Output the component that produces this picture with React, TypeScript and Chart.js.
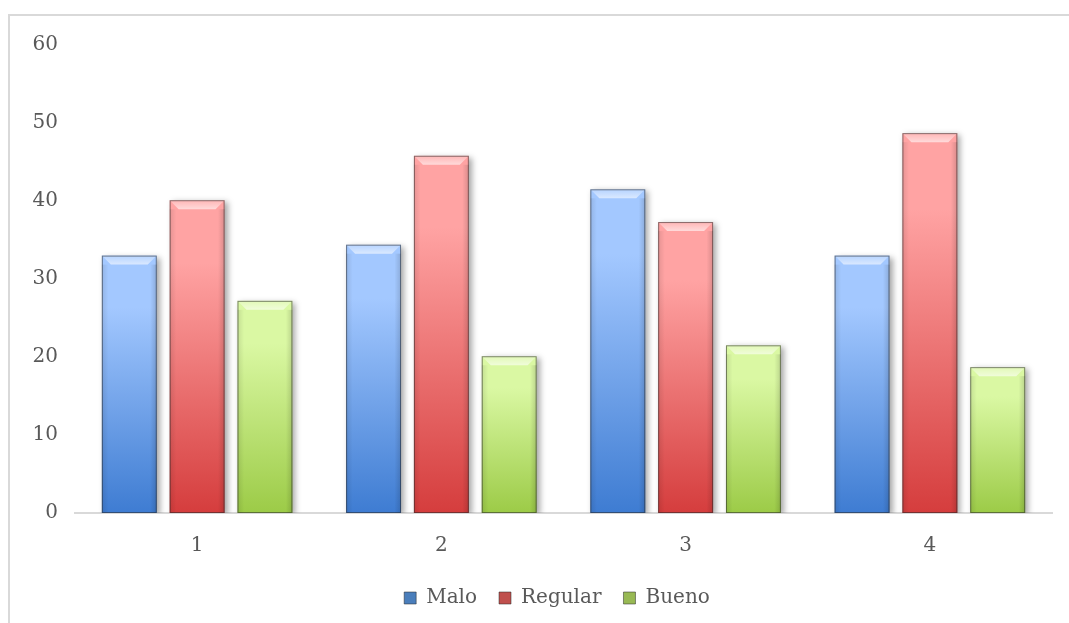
import React, { useEffect, useRef } from "react";
import { Chart, registerables } from "chart.js";

Chart.register(...registerables);

const categories = ["1", "2", "3", "4"];
const seriesNames = ["Malo", "Regular", "Bueno"];
const malo = [33.0, 34.4, 41.5, 33.0];
const regular = [40.1, 45.8, 37.3, 48.7];
const bueno = [27.2, 20.1, 21.5, 18.7];
const yTicks = [0, 10, 20, 30, 40, 50, 60];

const lightColors = ["#a3c8ff", "#ffa3a3", "#daf8a3"];
const darkColors = ["#3e7cd2", "#d53d3d", "#9ccb47"];
const legendColors = ["#4a7ebb", "#c0504d", "#98b954"];

const FONT = "'DejaVu Serif', serif";

function barGradient(idx: number) {
  return (ctx: any) => {
    const chart = ctx.chart;
    if (!chart.chartArea || ctx.raw == null) return legendColors[idx];
    const y = chart.scales.y;
    const top = y.getPixelForValue(ctx.raw);
    const bottom = y.getPixelForValue(0);
    const g = chart.ctx.createLinearGradient(0, top, 0, bottom);
    g.addColorStop(0, lightColors[idx]);
    g.addColorStop(0.2, lightColors[idx]);
    g.addColorStop(1, darkColors[idx]);
    return g;
  };
}

const legendShiftPlugin = {
  id: "legendShift",
  afterLayout(chart: any) {
    if (chart.legend) {
      chart.legend.left += 22;
      chart.legend.right += 22;
    }
  },
};

const bevelPlugin = {
  id: "bevel",
  beforeDatasetsDraw(chart: any) {
    const c = chart.ctx;
    c.save();
    c.shadowColor = "rgba(0,0,0,0.35)";
    c.shadowBlur = 6;
    c.shadowOffsetX = 3;
    c.shadowOffsetY = 2;
  },
  afterDatasetsDraw(chart: any) {
    const c = chart.ctx;
    c.restore();
    c.save();
    chart.data.datasets.forEach((_: any, di: number) => {
      const meta = chart.getDatasetMeta(di);
      meta.data.forEach((bar: any) => {
        const left = bar.x - bar.width / 2;
        const right = bar.x + bar.width / 2;
        const top = bar.y;
        const bottom = bar.base;
        const b = 9;
        c.beginPath();
        c.moveTo(left, top);
        c.lineTo(right, top);
        c.lineTo(right - b, top + b);
        c.lineTo(left + b, top + b);
        c.closePath();
        const g = c.createLinearGradient(0, top, 0, top + b);
        g.addColorStop(0, "rgba(255,255,255,0.2)");
        g.addColorStop(1, "rgba(255,255,255,0.6)");
        c.fillStyle = g;
        c.fill();
        const sg = c.createLinearGradient(left, 0, right, 0);
        sg.addColorStop(0, "rgba(0,0,0,0.10)");
        sg.addColorStop(0.12, "rgba(0,0,0,0)");
        sg.addColorStop(0.88, "rgba(0,0,0,0)");
        sg.addColorStop(1, "rgba(0,0,0,0.15)");
        c.fillStyle = sg;
        c.fillRect(left, top + b, right - left, bottom - top - b);
        c.strokeStyle = "rgba(40,40,40,0.55)";
        c.lineWidth = 1;
        c.strokeRect(left + 0.5, top + 0.5, right - left - 1, bottom - top - 1);
      });
    });
    c.restore();
  },
};

export default function App() {
  const ref = useRef<HTMLCanvasElement | null>(null);
  useEffect(() => {
    if (!ref.current) return;
    const data = [malo, regular, bueno];
    const chart = new Chart(ref.current, {
      type: "bar",
      data: {
        labels: categories,
        datasets: seriesNames.map((name, i) => ({
          label: name,
          data: data[i],
          backgroundColor: barGradient(i),
          borderWidth: 0,
          categoryPercentage: 0.833,
          barPercentage: 0.81,
        })),
      },
      plugins: [bevelPlugin, legendShiftPlugin],
      options: {
        animation: false,
        responsive: true,
        maintainAspectRatio: false,
        layout: { padding: { top: 24, right: 17, left: 8, bottom: 5 } },
        scales: {
          x: {
            grid: { display: false, drawTicks: false },
            border: { display: true, color: "#d9d9d9", width: 2 },
            ticks: { color: "#595959", font: { family: FONT, size: 20 }, padding: 21 },
            afterFit: (scale: any) => {
              scale.height = 53;
            },
          },
          y: {
            min: 0,
            max: 60,
            afterBuildTicks: (scale: any) => {
              scale.ticks = yTicks.map((v) => ({ value: v }));
            },
            grid: { display: false, drawTicks: false },
            border: { display: false },
            ticks: { color: "#595959", font: { family: FONT, size: 20 }, padding: 17 },
            afterFit: (scale: any) => {
              scale.width = 57;
            },
          },
        },
        plugins: {
          tooltip: { enabled: false },
          legend: {
            position: "bottom",
            labels: {
              color: "#595959",
              font: { family: FONT, size: 20 },
              boxWidth: 12,
              boxHeight: 12,
              padding: 22,
              generateLabels: () =>
                seriesNames.map((n, i) => ({
                  text: n,
                  fillStyle: legendColors[i],
                  strokeStyle: "rgba(40,40,40,0.5)",
                  lineWidth: 1,
                  hidden: false,
                  datasetIndex: i,
                  fontColor: "#595959",
                })),
            },
          },
        },
      },
    });
    return () => chart.destroy();
  }, []);
  return (
    <div
      style={{
        position: "absolute",
        left: 8,
        top: 14,
        width: 1061,
        height: 609,
        borderLeft: "2px solid #d9d9d9",
        borderTop: "2px solid #d9d9d9",
        boxSizing: "border-box",
        background: "#fff",
      }}
    >
      <canvas ref={ref} />
    </div>
  );
}
